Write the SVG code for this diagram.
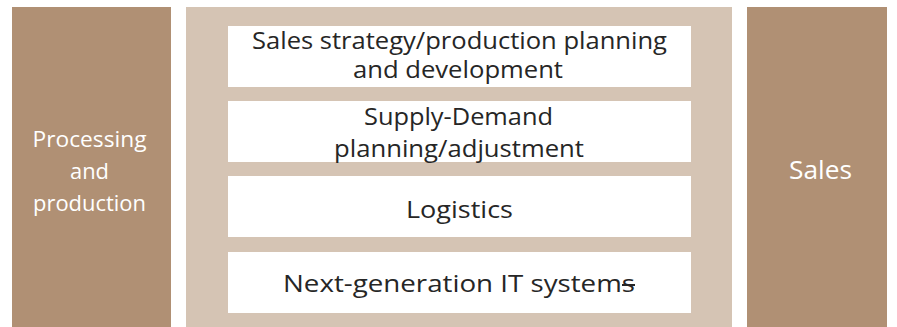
<svg xmlns="http://www.w3.org/2000/svg" width="897" height="327" viewBox="0 0 897 327">
  <style>
    .side { fill: #B09074; }
    .frame { fill: #D5C4B4; }
    .item { fill: #FFFFFF; }
    .lbl { font-family: "Open Sans", "Noto Sans", "Liberation Sans", sans-serif; text-anchor: middle; }
    .dark { fill: #262626; font-size: 24.5px; }
    .light { fill: #FFFFFF; font-size: 22px; }
  </style>
  <rect width="897" height="327" fill="#FFFFFF"/>

  <g id="processing-production">
    <rect class="side" x="12" y="7" width="159" height="320"/>
    <text class="lbl light" x="89.5" y="147" textLength="114" lengthAdjust="spacingAndGlyphs">Processing</text>
    <text class="lbl light" x="89.5" y="179" textLength="39" lengthAdjust="spacingAndGlyphs">and</text>
    <text class="lbl light" x="89.5" y="211" textLength="113" lengthAdjust="spacingAndGlyphs">production</text>
  </g>

  <g id="functions">
    <rect class="frame" x="186" y="7" width="546" height="320"/>
  </g>

  <g id="sales-strategy">
    <rect class="item" x="228" y="26" width="463" height="61"/>
    <text class="lbl dark" x="459.5" y="49" textLength="415" lengthAdjust="spacingAndGlyphs">Sales strategy/production planning</text>
    <text class="lbl dark" x="458" y="77.5" textLength="210" lengthAdjust="spacingAndGlyphs">and development</text>
  </g>

  <g id="supply-demand">
    <rect class="item" x="228" y="101" width="463" height="61"/>
    <text class="lbl dark" x="458.5" y="125" textLength="189" lengthAdjust="spacingAndGlyphs">Supply-Demand</text>
    <text class="lbl dark" x="459" y="156.5" textLength="250" lengthAdjust="spacingAndGlyphs">planning/adjustment</text>
  </g>

  <g id="logistics">
    <rect class="item" x="228" y="176" width="463" height="61"/>
    <text class="lbl dark" x="459.5" y="218" textLength="107" lengthAdjust="spacingAndGlyphs">Logistics</text>
  </g>

  <g id="it-systems">
    <rect class="item" x="228" y="252" width="463" height="61"/>
    <text class="lbl dark" x="459" y="292" textLength="352" lengthAdjust="spacingAndGlyphs">Next-generation IT systems</text>
    <line x1="622" y1="285" x2="635" y2="285" stroke="#262626" stroke-width="2"/>
  </g>

  <g id="sales">
    <rect class="side" x="747" y="7" width="140" height="320"/>
    <text class="lbl light" x="820.5" y="179" style="font-size:26px" textLength="63" lengthAdjust="spacingAndGlyphs">Sales</text>
  </g>

  <g id="connectors"></g>
</svg>
